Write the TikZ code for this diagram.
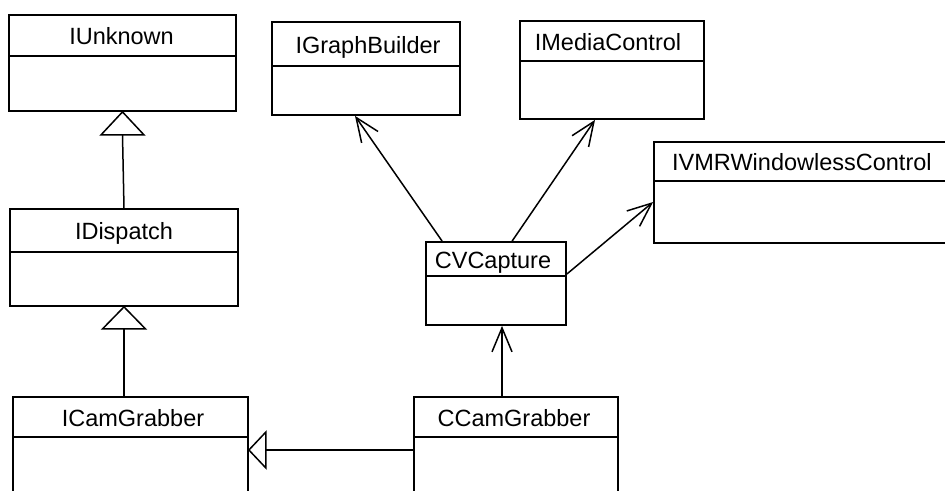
\documentclass[tikz,border=0pt]{standalone}
\usepackage{fontspec}
\setmainfont{Liberation Sans}
\usetikzlibrary{arrows.meta}
\begin{document}
\begin{tikzpicture}[x=1pt,y=-1pt,
  classbox/.style={draw,line width=1.8pt,rectangle,inner sep=0pt},
  title/.style={inner sep=0pt,text height=17pt,text depth=0pt,font=\fontsize{23.5}{28}\selectfont},
  sepline/.style={line width=1.8pt},
  conn/.style={line width=1.5pt},
  tri/.style={line width=1.5pt,fill=white,line join=miter},
  uses/.style={conn,-{Straight Barb[length=24pt,width=20pt,line width=1.5pt]}}]
\clip (0,0) rectangle (945,490);
\fill[white] (0,0) rectangle (945,490);

% boxes
\node[classbox,minimum width=227pt,minimum height=96pt] (iu) at (122.5,63) {};
\node[classbox,minimum width=228pt,minimum height=97pt] (idp) at (124,257.5) {};
\node[classbox,minimum width=235pt,minimum height=123pt] (icg) at (130.5,458.5) {};
\node[classbox,minimum width=188pt,minimum height=93pt] (gb) at (366,68.5) {};
\node[classbox,minimum width=184pt,minimum height=98pt] (mc) at (612,70) {};
\node[classbox,minimum width=336pt,minimum height=101pt] (vmr) at (822,192.5) {};
\node[classbox,minimum width=140pt,minimum height=83pt] (cv) at (496,283.5) {};
\node[classbox,minimum width=204pt,minimum height=123pt] (ccg) at (516,458.5) {};

% separators
\draw[sepline] ([yshift=-42pt]iu.north west) -- ([yshift=-42pt]iu.north east);
\draw[sepline] ([yshift=-44pt]idp.north west) -- ([yshift=-44pt]idp.north east);
\draw[sepline] ([yshift=-41pt]icg.north west) -- ([yshift=-41pt]icg.north east);
\draw[sepline] ([yshift=-45pt]gb.north west) -- ([yshift=-45pt]gb.north east);
\draw[sepline] ([yshift=-41pt]mc.north west) -- ([yshift=-41pt]mc.north east);
\draw[sepline] ([yshift=-40pt]vmr.north west) -- ([yshift=-40pt]vmr.north east);
\draw[sepline] ([yshift=-35pt]cv.north west) -- ([yshift=-35pt]cv.north east);
\draw[sepline] ([yshift=-41pt]ccg.north west) -- ([yshift=-41pt]ccg.north east);

% titles
\node[title] (iu-t) at (121.5,36) {IUnknown};
\node[title] (idp-t) at (124,231) {IDispatch};
\node[title] (icg-t) at (133,417.5) {ICamGrabber};
\node[title] (gb-t) at (368,44.5) {IGraphBuilder};
\node[title] (mc-t) at (608,41.5) {IMediaControl};
\node[title,anchor=west] (vmr-t) at (672,162) {IVMRWindowlessControl};
\node[title] (cv-t) at (493,259.5) {CVCapture};
\node[title] (ccg-t) at (514,417.5) {CCamGrabber};

% inheritance connectors (open triangles)
\draw[conn] (idp.north) -- ([yshift=-23pt]iu.south);
\draw[tri] (iu.south) -- ++(-21.5,23) -- ++(43,0) -- cycle;
\draw[conn] (icg.north -| idp.south) -- ([yshift=-22pt]idp.south);
\draw[tri] (idp.south) -- ++(-21.5,22) -- ++(43,0) -- cycle;
\draw[conn] ([yshift=8.5pt]ccg.west) -- ([xshift=17pt,yshift=8.5pt]icg.east);
\draw[tri] ([yshift=8.5pt]icg.east) -- ++(17,-18) -- ++(0,36) -- cycle;

% usage connectors (open arrows)
\draw[uses] ([xshift=-14pt]ccg.north) -- ([xshift=6pt]cv.south);
\draw[uses] ([xshift=17pt]cv.north west) -- ([xshift=-11pt]gb.south);
\draw[uses] ([xshift=87pt]cv.north west) -- ([xshift=-17pt]mc.south);
\draw[uses] ([yshift=9.5pt]cv.east) -- ([yshift=-9.5pt]vmr.west);
\end{tikzpicture}
\end{document}
